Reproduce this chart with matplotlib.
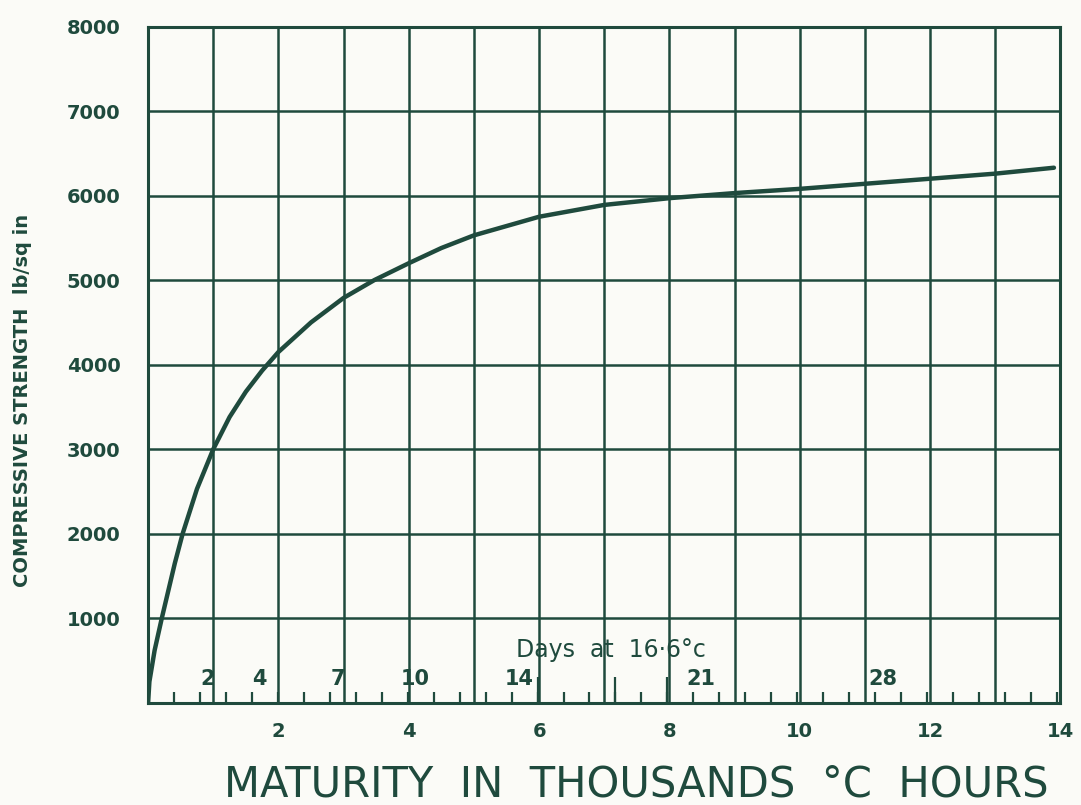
import numpy as np
import matplotlib.pyplot as plt

# strength-maturity curve (maturity in thousands of degC hours, strength in lb/sq in)
maturity = [0, 0.02, 0.1, 0.21, 0.41, 0.53, 0.75, 1.0, 1.25, 1.5, 1.75, 2.0, 2.5,
            3.0, 3.47, 4.0, 4.5, 5.0, 6.0, 7.0, 8.0, 9.0, 10.0, 11.0, 12.0, 13.0, 13.9]
strength = [0, 250, 620, 1000, 1650, 2000, 2530, 3000, 3380, 3680, 3930, 4150, 4500,
            4790, 5000, 5200, 5380, 5530, 5750, 5890, 5970, 6030, 6080, 6140, 6200, 6260, 6330]

# curing age scale at 16.6 degC
days_all = list(range(1, 36))
days_long = [15, 18, 20]
days_labelled = [2, 4, 7, 10, 14, 21, 28]
temp_c = 16.6

x_ticks = [2, 4, 6, 8, 10, 12, 14]
y_ticks = [1000, 2000, 3000, 4000, 5000, 6000, 7000, 8000]

ink = "#1f4a3d"
paper = "#fbfbf7"

fig = plt.figure(figsize=(10.81, 8.05), dpi=100, facecolor=paper)
ax = fig.add_axes([0.137, 0.127, 0.844, 0.84])
ax.set_facecolor(paper)
ax.set_xlim(0, 14)
ax.set_ylim(0, 8000)

# hand-ruled grid every 1000 hours and every 1000 lb/sq in
for gx in range(1, 14):
    ax.axvline(gx, color=ink, lw=1.8, zorder=1)
for gy in range(1000, 8000, 1000):
    ax.axhline(gy, color=ink, lw=1.8, zorder=1)
for s in ax.spines.values():
    s.set_color(ink)
    s.set_linewidth(2.2)

ax.plot(maturity, strength, color=ink, lw=3.2, solid_capstyle="round",
        solid_joinstyle="round", zorder=3)

# day ticks along the maturity axis: 1 day = 24 h * temperature
hours_per_day = 24 * temp_c / 1000.0
day_x = np.array(days_all) * hours_per_day
ax.vlines(day_x[day_x < 14], 0, 130, color=ink, lw=1.6, zorder=2)
ax.vlines(np.array(days_long) * hours_per_day, 0, 300, color=ink, lw=1.6, zorder=2)
for d in days_labelled:
    ax.text(d * hours_per_day + 0.12, 280, str(d), color=ink, fontsize=15,
            fontweight="bold", ha="center", va="center", zorder=4)
ax.text(7.1, 630, "Days  at  16·6°c", color=ink, fontsize=17,
        ha="center", va="center", zorder=4)

ax.set_xticks(x_ticks)
ax.set_yticks(y_ticks)
ax.set_xticklabels([str(v) for v in x_ticks], fontsize=14, fontweight="bold", color=ink)
ax.set_yticklabels([str(v) for v in y_ticks], fontsize=14, fontweight="bold", color=ink)
ax.tick_params(length=0, pad=14)
ax.tick_params(axis="y", pad=20)

fig.text(0.589, 0.025, "MATURITY  IN  THOUSANDS  °C  HOURS", color=ink, fontsize=30,
         ha="center", va="center")
fig.text(0.021, 0.503, "COMPRESSIVE STRENGTH  lb/sq in", color=ink, fontsize=14,
         fontweight="bold", rotation=90, ha="center", va="center")

fig.savefig("out.png", dpi=100, facecolor=paper)
